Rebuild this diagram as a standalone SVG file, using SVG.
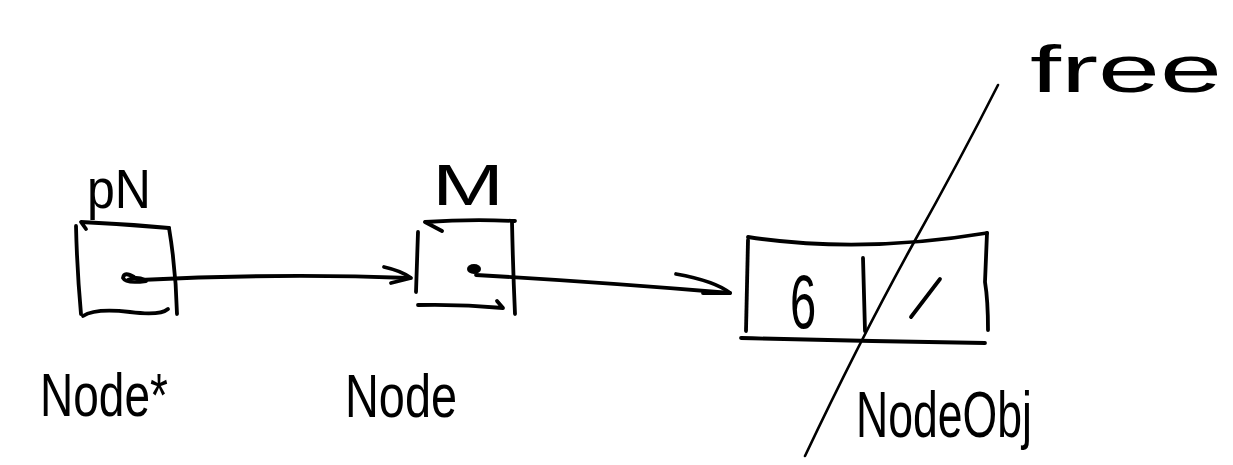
<svg xmlns="http://www.w3.org/2000/svg" width="1233" height="465" viewBox="0 0 1233 465">
  <style>
    .ink { fill: none; stroke: #000; stroke-width: 3.8; stroke-linecap: round; stroke-linejoin: round; }
    .thin { fill: none; stroke: #000; stroke-width: 2.6; stroke-linecap: round; stroke-linejoin: round; }
    .lbl { font-family: "Liberation Sans", "DejaVu Sans", sans-serif; fill: #000; }
  </style>
  <rect width="1233" height="465" fill="#fff"/>

  <!-- pointer variable pN of type Node* -->
  <g id="node-pN">
    <text class="lbl" x="87" y="208" font-size="56" textLength="64" lengthAdjust="spacingAndGlyphs">pN</text>
    <path class="ink" d="M86,229 L81,222 Q125,224 169,228"/>
    <path class="ink" d="M76,226 Q77,270 81,314"/>
    <path class="ink" d="M169,228 Q176,270 177,314"/>
    <path class="ink" d="M83,316 Q95,308 130,312 Q160,316 168,309"/>
    <path class="ink" d="M134,277 Q124,271 123,278 Q126,284 146,281"/>
    <path class="ink" d="M128,280 Q136,276 145,280"/>
    <text class="lbl" x="40" y="416" font-size="62" textLength="128" lengthAdjust="spacingAndGlyphs">Node*</text>
  </g>

  <!-- variable M of type Node -->
  <g id="node-M">
    <text class="lbl" x="432" y="205" font-size="58" textLength="72" lengthAdjust="spacingAndGlyphs">M</text>
    <path class="ink" d="M442,231 L425,222 Q470,219 515,221"/>
    <path class="ink" d="M418,232 L416,292"/>
    <path class="ink" d="M512,222 Q513,270 515,314"/>
    <path class="ink" d="M418,305 Q460,304 503,308 L497,301"/>
    <ellipse cx="474" cy="269" rx="7" ry="5" fill="#000"/>
    <text class="lbl" x="345" y="417" font-size="62" textLength="112" lengthAdjust="spacingAndGlyphs">Node</text>
  </g>

  <!-- freed NodeObj holding 6 and a null link -->
  <g id="node-NodeObj">
    <path class="ink" d="M748,237 Q860,254 987,233"/>
    <path class="ink" d="M748,240 L746,331"/>
    <path class="ink" d="M987,233 L985,282 Q988,300 988,330"/>
    <path class="ink" d="M741,338 Q860,341 985,343"/>
    <path class="ink" d="M863,258 L865,331"/>
    <g transform="translate(790,328) scale(0.62,1)">
      <text class="lbl" x="0" y="0" font-size="76">6</text>
    </g>
    <path class="ink" d="M940,279 L911,317"/>
    <text class="lbl" x="856" y="437" font-size="64" textLength="176" lengthAdjust="spacingAndGlyphs">NodeObj</text>
  </g>

  <!-- strike-through marking the object as freed -->
  <g id="node-free">
    <path class="thin" d="M998,85 Q960,160 913,244 Q860,340 805,456"/>
    <text class="lbl" x="1030" y="92" font-size="66" textLength="192" lengthAdjust="spacingAndGlyphs">free</text>
  </g>

  <g id="connectors">
    <path class="ink" d="M140,280 Q280,273 410,278"/>
    <path class="ink" d="M384,267 Q402,271 411,278 L391,283"/>
    <path class="ink" d="M476,275 Q600,282 730,293"/>
    <path class="ink" d="M676,274 Q715,281 730,293 L703,293"/>
  </g>
</svg>
